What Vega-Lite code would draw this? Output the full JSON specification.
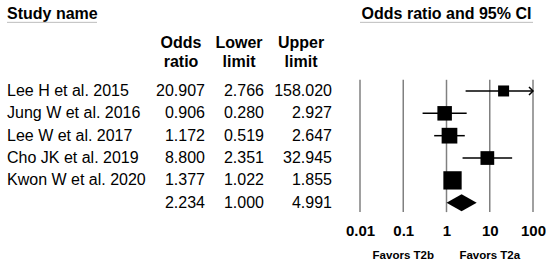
{
  "$schema": "https://vega.github.io/schema/vega-lite/v6.json",
  "padding": 0,
  "spacing": 0,
  "bounds": "flush",
  "config": {
    "view": {"stroke": null},
    "font": "Liberation Sans",
    "text": {"font": "Liberation Sans", "color": "black"},
    "axis": {"labelFont": "Liberation Sans"}
  },
  "datasets": {
    "studies": [
      {"study": "Lee H et al. 2015", "or": 20.907, "lower": 2.766, "upper": 158.020, "weight": 11.0, "row": 1, "pooled": false},
      {"study": "Jung W et al. 2016", "or": 0.906, "lower": 0.280, "upper": 2.927, "weight": 19.1, "row": 2, "pooled": false},
      {"study": "Lee W et al. 2017", "or": 1.172, "lower": 0.519, "upper": 2.647, "weight": 22.4, "row": 3, "pooled": false},
      {"study": "Cho JK et al. 2019", "or": 8.800, "lower": 2.351, "upper": 32.945, "weight": 17.1, "row": 4, "pooled": false},
      {"study": "Kwon W et al. 2020", "or": 1.377, "lower": 1.022, "upper": 1.855, "weight": 30.4, "row": 5, "pooled": false},
      {"study": "", "or": 2.234, "lower": 1.000, "upper": 4.991, "weight": 0, "row": 6, "pooled": true}
    ]
  },
  "hconcat": [
    {
      "width": 360,
      "height": 268,
      "data": {"name": "studies"},
      "layer": [
        {
          "mark": {"type": "text", "align": "left", "baseline": "middle", "fontSize": 16},
          "encoding": {
            "x": {"value": 7},
            "y": {"field": "row", "type": "quantitative", "scale": {"domain": [-3.07, 8.92], "reverse": true, "nice": false, "zero": false}, "axis": null},
            "text": {"field": "study", "type": "nominal"}
          }
        },
        {
          "mark": {"type": "text", "align": "right", "baseline": "middle", "fontSize": 16},
          "encoding": {
            "x": {"value": 205},
            "y": {"field": "row", "type": "quantitative"},
            "text": {"field": "or", "type": "quantitative", "format": ".3f"}
          }
        },
        {
          "mark": {"type": "text", "align": "right", "baseline": "middle", "fontSize": 16},
          "encoding": {
            "x": {"value": 264},
            "y": {"field": "row", "type": "quantitative"},
            "text": {"field": "lower", "type": "quantitative", "format": ".3f"}
          }
        },
        {
          "mark": {"type": "text", "align": "right", "baseline": "middle", "fontSize": 16},
          "encoding": {
            "x": {"value": 332},
            "y": {"field": "row", "type": "quantitative"},
            "text": {"field": "upper", "type": "quantitative", "format": ".3f"}
          }
        },
        {
          "data": {"values": [{"label": "Study name"}]},
          "mark": {"type": "text", "align": "left", "baseline": "middle", "fontSize": 16, "fontWeight": "bold"},
          "encoding": {
            "x": {"value": 7},
            "y": {"datum": -2.446, "type": "quantitative"},
            "text": {"field": "label", "type": "nominal"}
          }
        },
        {
          "data": {"values": [{"label": "Study name"}]},
          "mark": {"type": "rule", "color": "#bdbdbd", "strokeWidth": 1},
          "encoding": {
            "x": {"value": 7},
            "x2": {"value": 97},
            "y": {"datum": -2.07, "type": "quantitative"}
          }
        },
        {
          "data": {"values": [{"label": "Odds\nratio"}]},
          "mark": {"type": "text", "align": "center", "baseline": "middle", "fontSize": 16, "fontWeight": "bold", "lineBreak": "\n", "lineHeight": 19},
          "encoding": {
            "x": {"value": 181},
            "y": {"datum": -1.15, "type": "quantitative"},
            "text": {"field": "label", "type": "nominal"}
          }
        },
        {
          "data": {"values": [{"label": "Lower\nlimit"}]},
          "mark": {"type": "text", "align": "center", "baseline": "middle", "fontSize": 16, "fontWeight": "bold", "lineBreak": "\n", "lineHeight": 19},
          "encoding": {
            "x": {"value": 239},
            "y": {"datum": -1.15, "type": "quantitative"},
            "text": {"field": "label", "type": "nominal"}
          }
        },
        {
          "data": {"values": [{"label": "Upper\nlimit"}]},
          "mark": {"type": "text", "align": "center", "baseline": "middle", "fontSize": 16, "fontWeight": "bold", "lineBreak": "\n", "lineHeight": 19},
          "encoding": {
            "x": {"value": 301},
            "y": {"datum": -1.15, "type": "quantitative"},
            "text": {"field": "label", "type": "nominal"}
          }
        }
      ]
    },
    {
      "width": 173,
      "height": 268,
      "data": {"name": "studies"},
      "layer": [
        {
          "data": {"values": [{"t": 0.01}, {"t": 0.1}, {"t": 1}, {"t": 10}, {"t": 100}]},
          "mark": {"type": "rule", "color": "#808080", "strokeWidth": 1.5},
          "encoding": {
            "x": {
              "field": "t", "type": "quantitative",
              "scale": {"type": "log", "domain": [0.01, 100], "nice": false, "clamp": true},
              "axis": {
                "orient": "bottom", "offset": -45, "domain": false, "ticks": false, "grid": false,
                "values": [0.01, 0.1, 1, 10, 100], "labelExpr": "format(datum.value, '~g')",
                "labelFontSize": 15, "labelFontWeight": "bold", "labelColor": "black",
                "labelPadding": 0, "labelFlush": false, "labelOverlap": false, "labelBound": false,
                "title": null
              }
            },
            "y": {"datum": 0.5, "type": "quantitative", "scale": {"domain": [-3.07, 8.92], "reverse": true, "nice": false, "zero": false}, "axis": null},
            "y2": {"datum": 6.42}
          }
        },
        {
          "transform": [{"filter": "!datum.pooled"}],
          "mark": {"type": "rule", "color": "black", "strokeWidth": 1.5},
          "encoding": {
            "x": {"field": "lower", "type": "quantitative", "title": null},
            "x2": {"field": "upper"},
            "y": {"field": "row", "type": "quantitative"}
          }
        },
        {
          "transform": [{"filter": "!datum.pooled"}],
          "mark": {"type": "point", "shape": "square", "filled": true, "color": "black", "opacity": 1, "strokeWidth": 0},
          "encoding": {
            "x": {"field": "or", "type": "quantitative", "title": null},
            "y": {"field": "row", "type": "quantitative"},
            "size": {"field": "weight", "type": "quantitative", "scale": {"type": "linear", "domain": [0, 30.4], "range": [0, 335], "zero": true}, "legend": null}
          }
        },
        {
          "transform": [{"filter": "datum.upper > 100"}],
          "mark": {"type": "point", "shape": "M-1,-1L0,0L-1,1", "filled": false, "color": "black", "strokeWidth": 1.5, "size": 64, "opacity": 1},
          "encoding": {
            "x": {"field": "upper", "type": "quantitative", "title": null},
            "y": {"field": "row", "type": "quantitative"}
          }
        },
        {
          "transform": [
            {"filter": "datum.pooled"},
            {"fold": ["lower", "or", "upper"], "as": ["k", "v"]},
            {"calculate": "datum.row - (datum.k === 'or' ? 0.38 : 0)", "as": "top"},
            {"calculate": "datum.row + (datum.k === 'or' ? 0.38 : 0)", "as": "bot"}
          ],
          "mark": {"type": "area", "orient": "vertical", "color": "black", "opacity": 1},
          "encoding": {
            "x": {"field": "v", "type": "quantitative", "title": null},
            "y": {"field": "top", "type": "quantitative"},
            "y2": {"field": "bot"}
          }
        },
        {
          "data": {"values": [{"label": "Odds ratio and 95% CI", "at": 1}]},
          "mark": {"type": "text", "align": "center", "baseline": "middle", "fontSize": 16, "fontWeight": "bold"},
          "encoding": {
            "x": {"field": "at", "type": "quantitative", "title": null},
            "y": {"datum": -2.446, "type": "quantitative"},
            "text": {"field": "label", "type": "nominal"}
          }
        },
        {
          "data": {"values": [{"from": 0.01, "to": 100}]},
          "mark": {"type": "rule", "color": "#bdbdbd", "strokeWidth": 1},
          "encoding": {
            "x": {"field": "from", "type": "quantitative", "title": null},
            "x2": {"field": "to"},
            "y": {"datum": -2.07, "type": "quantitative"}
          }
        },
        {
          "data": {"values": [{"label": "Favors T2b", "at": 0.1}, {"label": "Favors T2a", "at": 10}]},
          "mark": {"type": "text", "align": "center", "baseline": "middle", "fontSize": 11.5, "fontWeight": "bold"},
          "encoding": {
            "x": {"field": "at", "type": "quantitative", "title": null},
            "y": {"datum": 8.386, "type": "quantitative"},
            "text": {"field": "label", "type": "nominal"}
          }
        }
      ]
    }
  ]
}
